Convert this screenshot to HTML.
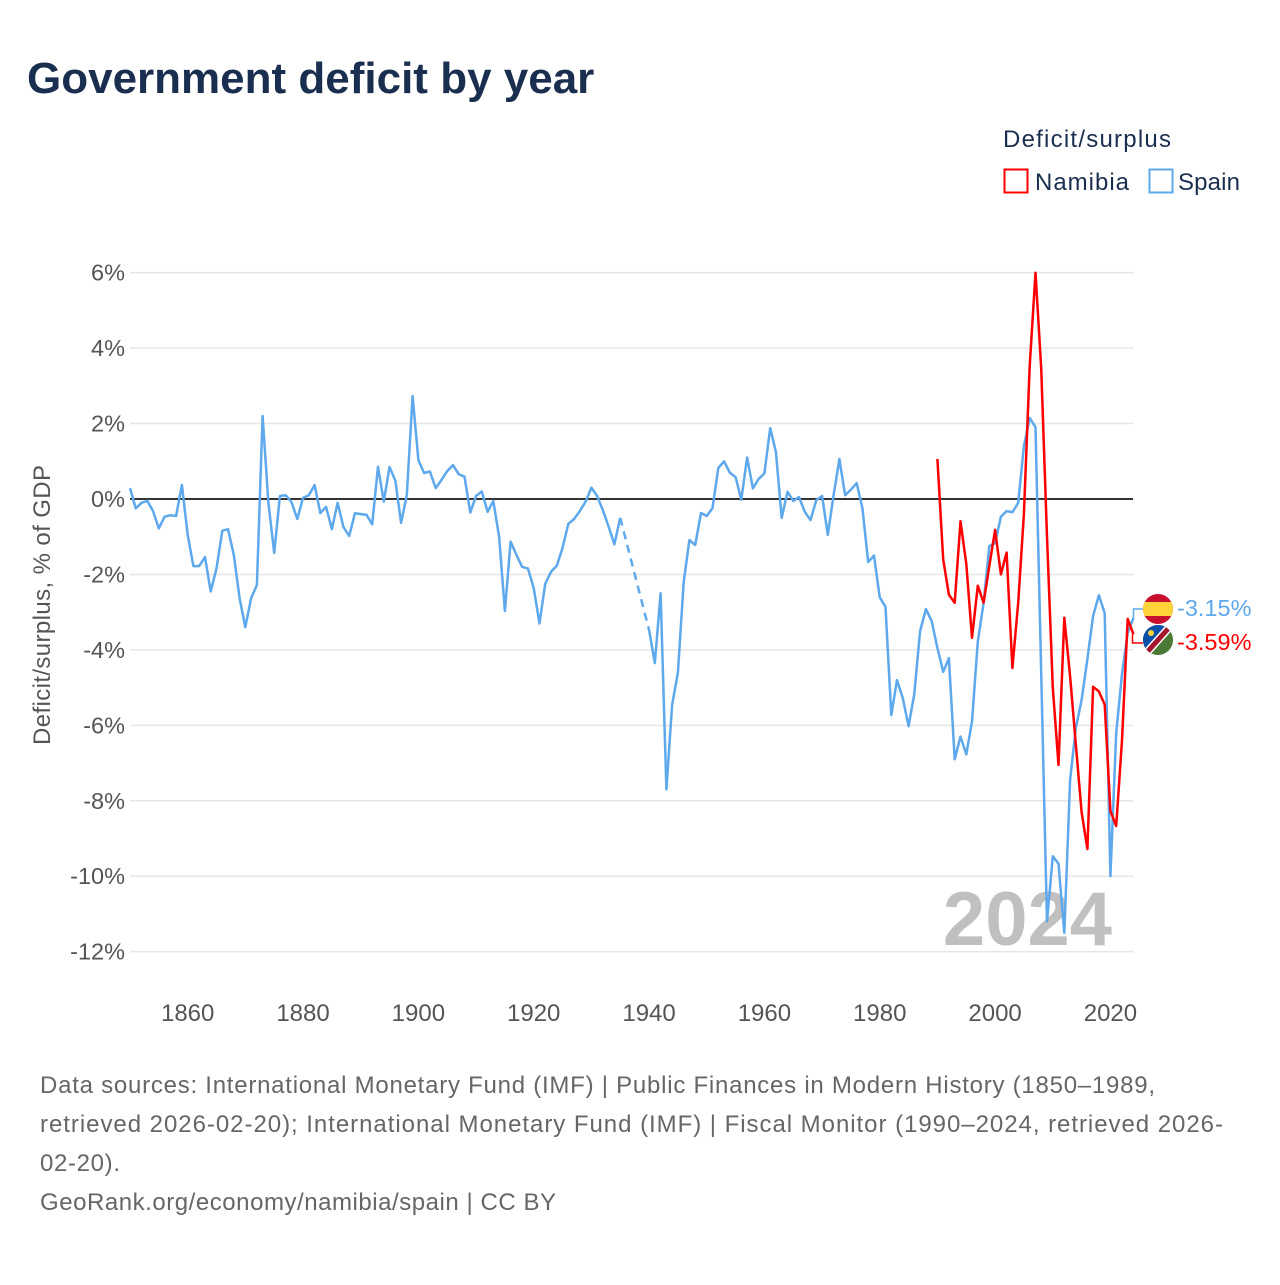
<!DOCTYPE html>
<html><head><meta charset="utf-8">
<style>
html,body{margin:0;padding:0;background:#fff;}
body{width:1280px;height:1280px;overflow:hidden;font-family:"Liberation Sans",sans-serif;}
svg text{font-family:"Liberation Sans",sans-serif;}
</style></head>
<body>
<svg id="chart" width="1280" height="1280" viewBox="0 0 1280 1280">
<text x="27" y="93" font-size="44" font-weight="bold" fill="#1a2e4f">Government deficit by year</text>
<text x="1003" y="147" font-size="24" fill="#1a2e4f" textLength="168">Deficit/surplus</text>
<g>
<rect x="1004.5" y="169.5" width="23" height="23" fill="#fff" stroke="#ff0000" stroke-width="2"/>
<text x="1035" y="190" font-size="24" fill="#1a2e4f" textLength="94">Namibia</text></g>
<g>
<rect x="1149.5" y="169.5" width="23" height="23" fill="#fff" stroke="#5ea8ec" stroke-width="2"/>
<text x="1178" y="190" font-size="24" fill="#1a2e4f" textLength="62">Spain</text></g>
<text transform="translate(50,605) rotate(-90)" text-anchor="middle" font-size="24" fill="#555" textLength="280">Deficit/surplus, % of GDP</text>
<g id="grid"></g>
<g id="yticks"></g>
<g id="xticks"></g>
<text x="1112" y="945" text-anchor="end" font-size="76" font-weight="bold" fill="#c0c0c0">2024</text>
<line x1="130" x2="1133" y1="499" y2="499" stroke="#333" stroke-width="2"/>
<g id="series"></g>
<g id="labels"></g>
<g font-size="24" fill="#666">
<text x="40" y="1093" textLength="1115">Data sources: International Monetary Fund (IMF) | Public Finances in Modern History (1850–1989,</text>
<text x="40" y="1132" textLength="1183">retrieved 2026-02-20); International Monetary Fund (IMF) | Fiscal Monitor (1990–2024, retrieved 2026-</text>
<text x="40" y="1171" textLength="80">02-20).</text>
<text x="40" y="1210" textLength="516">GeoRank.org/economy/namibia/spain | CC BY</text>
</g>
</svg>
<script>
const yTicks = [6,4,2,0,-2,-4,-6,-8,-10,-12];
const xTicks = [1860,1880,1900,1920,1940,1960,1980,2000,2020];
const spainYears1 = [1850,1851,1852,1853,1854,1855,1856,1857,1858,1859,1860,1861,1862,1863,1864,1865,1866,1867,1868,1869,1870,1871,1872,1873,1874,1875,1876,1877,1878,1879,1880,1881,1882,1883,1884,1885,1886,1887,1888,1889,1890,1891,1892,1893,1894,1895,1896,1897,1898,1899,1900,1901,1902,1903,1904,1905,1906,1907,1908,1909,1910,1911,1912,1913,1914,1915,1916,1917,1918,1919,1920,1921,1922,1923,1924,1925,1926,1927,1928,1929,1930,1931,1932,1933,1934,1935];
const spainValues1 = [0.29,-0.25,-0.1,-0.05,-0.32,-0.78,-0.47,-0.43,-0.45,0.37,-0.95,-1.78,-1.78,-1.54,-2.45,-1.84,-0.84,-0.8,-1.48,-2.63,-3.4,-2.63,-2.28,2.2,-0.1,-1.43,0.08,0.1,-0.08,-0.53,0.03,0.1,0.37,-0.37,-0.21,-0.8,-0.1,-0.74,-0.98,-0.38,-0.4,-0.42,-0.67,0.85,-0.07,0.85,0.49,-0.63,0.1,2.73,1.03,0.69,0.73,0.29,0.5,0.74,0.9,0.66,0.59,-0.36,0.08,0.2,-0.34,-0.05,-1.0,-2.97,-1.13,-1.48,-1.8,-1.84,-2.36,-3.3,-2.25,-1.93,-1.77,-1.3,-0.66,-0.53,-0.32,-0.07,0.3,0.08,-0.3,-0.74,-1.2,-0.5];
const spainYears2 = [1940,1941,1942,1943,1944,1945,1946,1947,1948,1949,1950,1951,1952,1953,1954,1955,1956,1957,1958,1959,1960,1961,1962,1963,1964,1965,1966,1967,1968,1969,1970,1971,1972,1973,1974,1975,1976,1977,1978,1979,1980,1981,1982,1983,1984,1985,1986,1987,1988,1989,1990,1991,1992,1993,1994,1995,1996,1997,1998,1999,2000,2001,2002,2003,2004,2005,2006,2007,2008,2009,2010,2011,2012,2013,2014,2015,2016,2017,2018,2019,2020,2021,2022,2023,2024];
const spainValues2 = [-3.47,-4.35,-2.5,-7.7,-5.46,-4.6,-2.2,-1.09,-1.22,-0.37,-0.45,-0.24,0.82,1.0,0.7,0.58,-0.02,1.1,0.28,0.53,0.68,1.88,1.25,-0.5,0.19,-0.05,0.05,-0.34,-0.56,-0.03,0.08,-0.95,0.1,1.06,0.1,0.25,0.42,-0.24,-1.67,-1.5,-2.6,-2.86,-5.73,-4.8,-5.28,-6.02,-5.17,-3.5,-2.92,-3.23,-3.95,-4.58,-4.22,-6.9,-6.3,-6.77,-5.9,-3.78,-2.76,-1.25,-1.17,-0.47,-0.32,-0.35,-0.1,1.4,2.15,1.9,-4.6,-11.2,-9.47,-9.67,-11.5,-7.45,-6.07,-5.33,-4.24,-3.1,-2.55,-3.03,-10.0,-6.2,-4.64,-3.55,-3.15];
const namibiaYears = [1990,1991,1992,1993,1994,1995,1996,1997,1998,1999,2000,2001,2002,2003,2004,2005,2006,2007,2008,2009,2010,2011,2012,2013,2014,2015,2016,2017,2018,2019,2020,2021,2022,2023,2024];
const namibiaValues = [1.06,-1.6,-2.54,-2.75,-0.59,-1.72,-3.68,-2.3,-2.75,-1.78,-0.82,-2.0,-1.42,-4.48,-2.75,-0.4,3.52,6.0,3.47,-1.0,-5.0,-7.05,-3.15,-4.7,-6.5,-8.3,-9.28,-4.98,-5.1,-5.45,-8.27,-8.67,-6.4,-3.18,-3.59];

const NS='http://www.w3.org/2000/svg';
const X0=130, X1=1133.5, Y0=499, PER=37.72;
function xs(yr){return X0+(yr-1850)*(X1-X0)/174;}
function ys(v){return Y0-v*PER;}
function mk(tag,attrs,parent){const e=document.createElementNS(NS,tag);for(const k in attrs)e.setAttribute(k,attrs[k]);parent.appendChild(e);return e;}
const grid=document.getElementById('grid'), yt=document.getElementById('yticks'), xt=document.getElementById('xticks');
yTicks.forEach(v=>{
  if(v!==0){const l=mk('line',{x1:X0,x2:X1,y1:ys(v),y2:ys(v),stroke:'#e6e6e6','stroke-width':1.5},grid);
  
  }
  const t=mk('text',{x:125,y:ys(v)+8,'text-anchor':'end','font-size':23.5,fill:'#555'},yt);
  t.textContent=v+'%';
  
  
});
xTicks.forEach(yr=>{
  const t=mk('text',{x:xs(yr),y:1021,'text-anchor':'middle','font-size':24,fill:'#555'},xt);
  t.textContent=yr;
  
  
});
const ser=document.getElementById('series');
function pts(ys_,vs){return ys_.map((y,i)=>xs(y).toFixed(1)+','+ys(vs[i]).toFixed(1)).join(' ');}
let p=mk('polyline',{points:pts(spainYears1,spainValues1),fill:'none',stroke:'#5ea8ec','stroke-width':2.5,'stroke-linejoin':'round'},ser);


const lastA=spainYears1.length-1;
p=mk('line',{x1:xs(spainYears1[lastA]),y1:ys(spainValues1[lastA]),x2:xs(spainYears2[0]),y2:ys(spainValues2[0]),stroke:'#5ea8ec','stroke-width':2.5,'stroke-dasharray':'8,6'},ser);


p=mk('polyline',{points:pts(spainYears2,spainValues2),fill:'none',stroke:'#5ea8ec','stroke-width':2.5,'stroke-linejoin':'round'},ser);


p=mk('polyline',{points:pts(namibiaYears,namibiaValues),fill:'none',stroke:'#ff0000','stroke-width':2.5,'stroke-linejoin':'round'},ser);



const lab=document.getElementById('labels');
const sv=spainValues2[spainValues2.length-1], nv=namibiaValues[namibiaValues.length-1];
const ex=xs(2024);
mk('polyline',{points:`${ex},${ys(sv)} ${ex},609 1143,609`,fill:'none',stroke:'#5ea8ec','stroke-width':1.5},lab);
mk('polyline',{points:`${ex-1},${ys(nv)} ${ex-1},643 1143,643`,fill:'none',stroke:'#ff0000','stroke-width':1.5},lab);
let g=mk('g',{},lab);


const cs=mk('clipPath',{id:'cs'},g);mk('circle',{cx:1158,cy:609,r:15},cs);
mk('rect',{x:1143,y:594,width:30,height:30,fill:'#c8102e','clip-path':'url(#cs)'},g);
mk('rect',{x:1143,y:602,width:30,height:14,fill:'#ffd43b','clip-path':'url(#cs)'},g);
g=mk('g',{},lab);


const cn=mk('clipPath',{id:'cn'},g);mk('circle',{cx:1158,cy:640,r:15},cn);
mk('rect',{x:1143,y:625,width:30,height:30,fill:'#4a7a35','clip-path':'url(#cn)'},g);
mk('polygon',{points:'1143,625 1173,625 1143,655',fill:'#0a4fa8','clip-path':'url(#cn)'},g);
mk('line',{x1:1141,y1:659,x2:1175,y2:621,stroke:'#fff','stroke-width':8,'clip-path':'url(#cn)'},g);
mk('line',{x1:1141,y1:659,x2:1175,y2:621,stroke:'#a3162e','stroke-width':5,'clip-path':'url(#cn)'},g);
mk('circle',{cx:1151,cy:633,r:3,fill:'#ffd43b'},g);
let t=mk('text',{x:1177,y:616,'font-size':23.5,fill:'#5ea8ec'},lab);
t.textContent=sv.toFixed(2)+'%';


t=mk('text',{x:1177,y:650,'font-size':23.5,fill:'#ff0000'},lab);
t.textContent=nv.toFixed(2)+'%';


</script>
</body></html>
